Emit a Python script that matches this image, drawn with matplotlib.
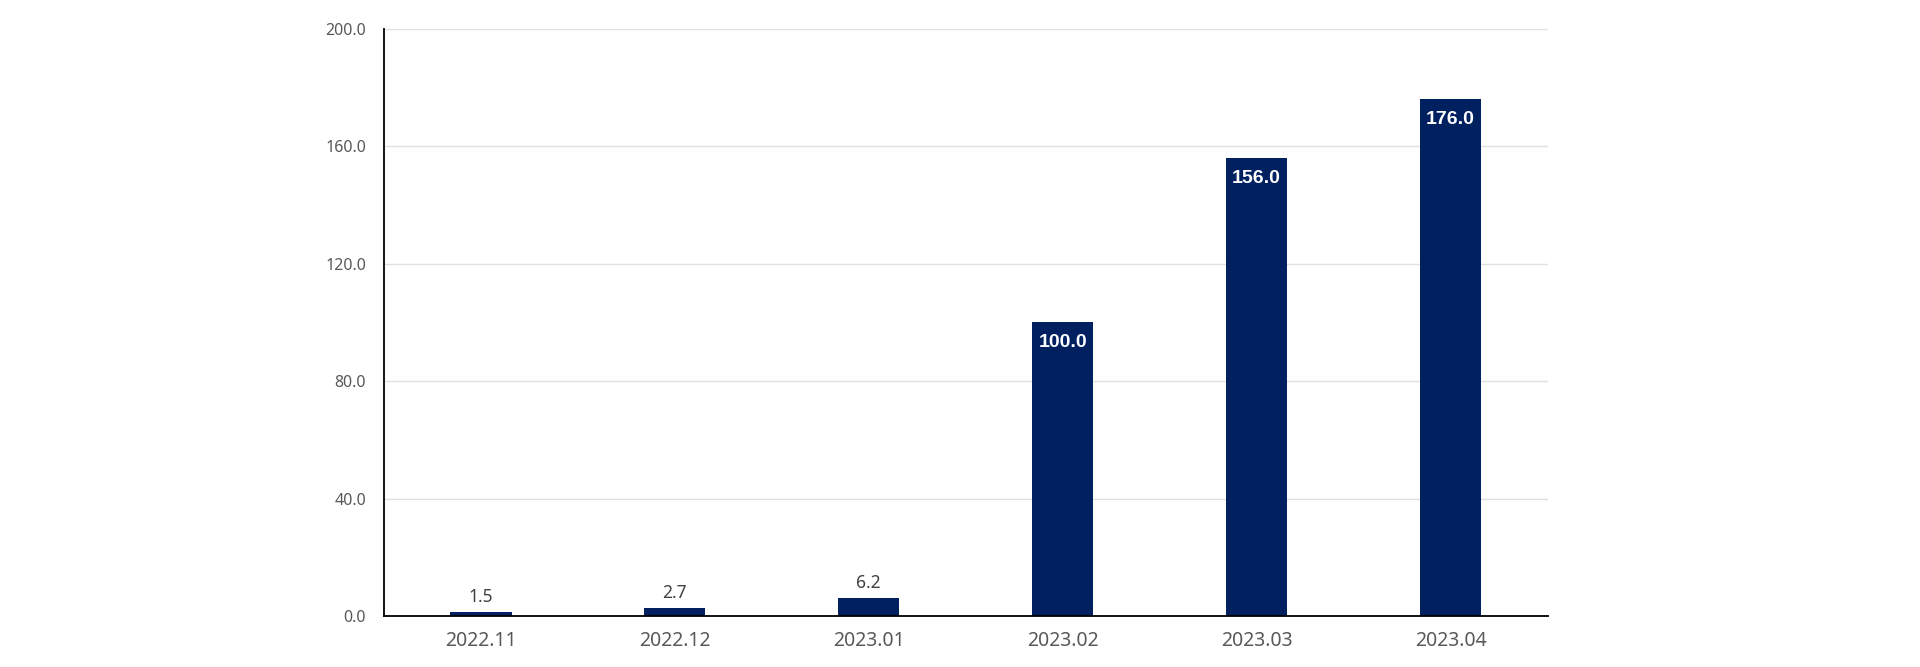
import matplotlib
matplotlib.use("Agg")
import matplotlib.pyplot as plt
import numpy as np

plt.rcParams['font.family'] = ['Noto Sans', 'DejaVu Sans']

# データ
months = ['2022.11', '2022.12', '2023.01', '2023.02', '2023.03', '2023.04']
values = [1.5, 2.7, 6.2, 100.0, 156.0, 176.0]
y_ticks = [0, 40, 80, 120, 160, 200]

bar_color = '#002060'

fig = plt.figure(figsize=(19.2, 6.67), dpi=100)
ax = fig.add_axes([0.2, 0.0765, 0.606, 0.88])

x = np.arange(len(months))
bars = ax.bar(x, values, width=0.315, color=bar_color, zorder=3)

# 値ラベル（大きい棒は内側に白文字）
for xi, v in zip(x, values):
    if v > 50:
        ax.annotate(f'{v:.1f}', (xi, v), xytext=(0, -8.5), textcoords='offset points',
                    ha='center', va='top', color='white', fontsize=14,
                    fontweight='bold', family=['Liberation Sans', 'DejaVu Sans'],
                    zorder=4)
    else:
        ax.annotate(f'{v:.1f}', (xi, v), xytext=(0, 4), textcoords='offset points',
                    ha='center', va='bottom', color='#404040', fontsize=12.5, zorder=4)

ax.set_xlim(-0.5, len(months) - 0.5)
ax.set_ylim(0, 200)
ax.set_yticks(y_ticks)
ax.set_yticklabels([f'{t:.1f}' for t in y_ticks])
ax.set_xticks(x)
ax.set_xticklabels(months)

ax.tick_params(axis='y', length=0, pad=13, labelsize=11.5, labelcolor='#595959')
ax.tick_params(axis='x', length=0, pad=11, labelsize=14, labelcolor='#595959')

ax.grid(axis='y', color='#e0e0e0', linewidth=1, zorder=0)
for s in ['top', 'right']:
    ax.spines[s].set_visible(False)
ax.spines['left'].set_color('black')
ax.spines['left'].set_linewidth(1.3)
ax.spines['bottom'].set_color('black')
ax.spines['bottom'].set_linewidth(1.3)
ax.spines['left'].set_zorder(5)
ax.spines['bottom'].set_zorder(5)

fig.savefig('out.png', dpi=100)
